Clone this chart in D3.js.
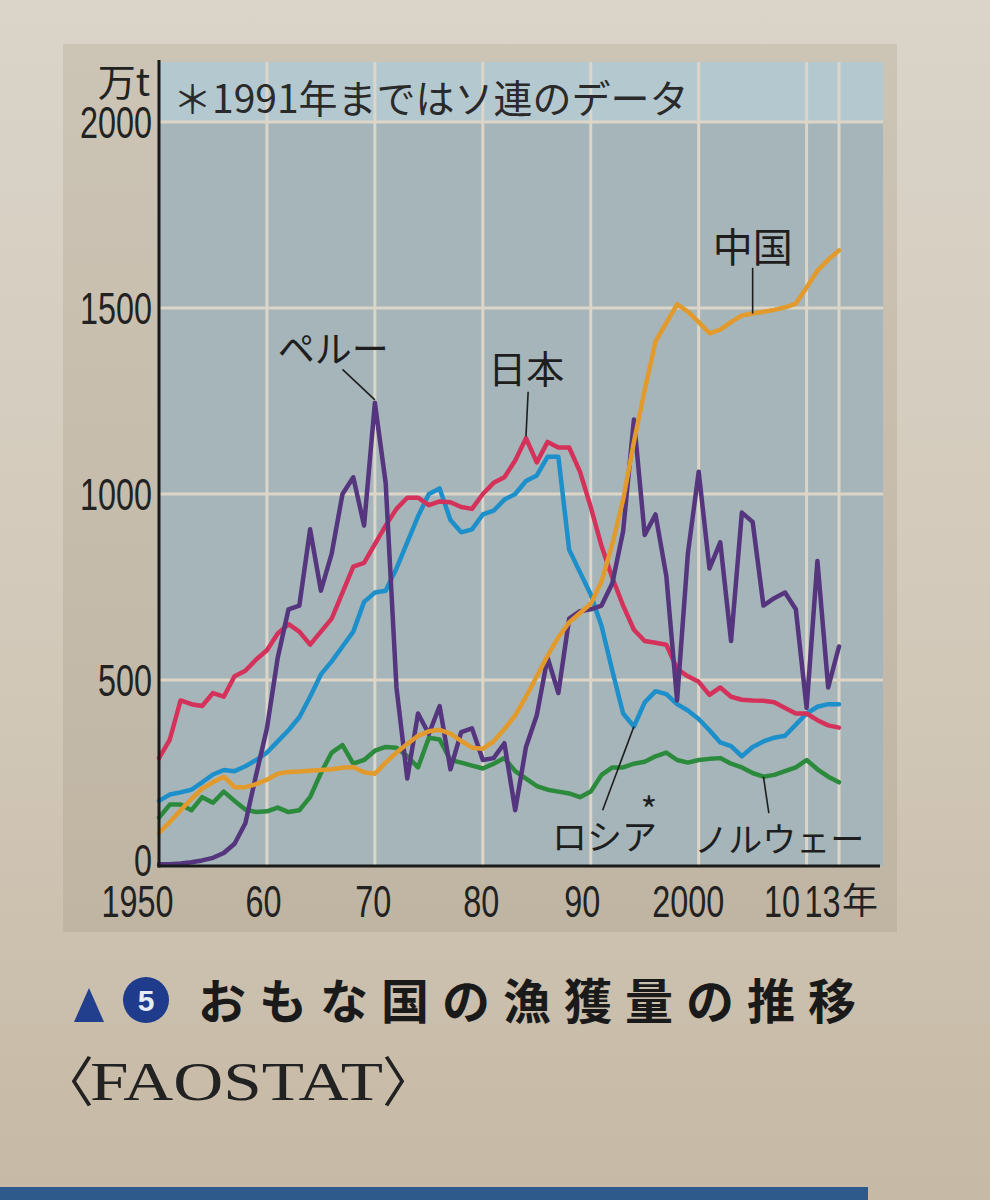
<!DOCTYPE html>
<html>
<head>
<meta charset="utf-8">
<script src="https://cdn.jsdelivr.net/npm/d3@7"></script>
<style>
  html, body { margin: 0; padding: 0; background: #d6cfc2; }
  svg { display: block; }
</style>
</head>
<body>
<svg id="chart" width="990" height="1200"></svg>
<script>
// ---------------- data (万t) ----------------
const years = d3.range(1950, 2014);

const japan = [290,340,445,435,430,465,455,510,525,555,
  580,625,650,630,595,630,665,735,805,815,
  865,915,960,990,990,970,980,978,965,960,
  1000,1030,1045,1090,1150,1085,1140,1125,1125,1060,
  965,860,775,700,635,605,600,595,530,510,
  495,460,480,455,447,445,444,440,425,410,
  410,392,378,372];

const russia = [175,192,198,205,225,246,258,255,268,285,
  305,335,365,400,455,515,550,590,630,710,
  735,740,800,870,940,1000,1015,930,897,905,
  945,955,985,1000,1035,1050,1100,1100,850,790,
  730,645,525,410,375,440,470,462,435,418,
  395,365,332,322,295,320,335,345,350,380,
  410,428,435,435];

const china = [90,118,150,180,208,225,240,212,212,220,
  232,248,253,254,256,258,260,264,266,252,
  248,278,305,328,350,362,366,356,336,318,
  315,335,368,405,455,510,565,615,655,680,
  705,765,865,985,1140,1280,1410,1460,1510,1490,
  1462,1432,1442,1462,1480,1485,1490,1495,1502,1512,
  1555,1600,1630,1655];

const peru = [5,5,7,10,15,22,35,60,115,245,
  370,560,690,700,905,740,840,1000,1045,915,
  1245,1030,480,235,410,355,430,260,360,370,
  285,290,330,150,320,405,560,465,665,685,
  690,700,760,900,1200,890,945,780,445,840,
  1060,800,870,605,950,925,700,720,735,690,
  425,820,480,590];

const norway = [130,165,165,150,185,170,200,175,152,145,
  147,157,145,150,185,250,305,325,275,285,
  310,320,318,295,265,345,340,285,278,270,
  262,275,290,255,235,215,205,200,195,185,
  200,245,265,265,275,280,295,305,285,278,
  285,288,290,275,265,250,240,245,255,265,
  285,260,240,225];

const yTicks = [0, 500, 1000, 1500, 2000];
const xTicks = [1950, 1960, 1970, 1980, 1990, 2000, 2010, 2013];
const xTickLabels = ["1950", "60", "70", "80", "90", "2000", "10", "13"];
const yearSuffix = "年";
const vGrid = [1960, 1970, 1980, 1990, 2000, 2010, 2013];
const hGrid = [500, 1000, 1500, 2000];

const seriesNames = ["ノルウェー", "ロシア", "日本", "ペルー", "中国"];
const seriesData = [norway, russia, japan, peru, china];
const seriesColors = ["#2c8a3c", "#1d8fca", "#d5325b", "#55357e", "#e29a2c"];

const noteText = "＊1991年まではソ連のデータ";
const unitText = "万t";
const titleText = "おもな国の漁獲量の推移";
const sourceParts = ["〈", "FAOSTAT", "〉"];

// ---------------- layout ----------------
const svg = d3.select("#chart");
const W = 990, H = 1200;
const plot = { left: 159, top: 62, right: 883, bottom: 866 };

const x = d3.scaleLinear().domain([1950, 2013]).range([159, 839]);
const y = d3.scaleLinear().domain([0, 2000]).range([866, 122]);

const defs = svg.append("defs");
const pg = defs.append("linearGradient").attr("id", "page").attr("x1", 0).attr("y1", 0).attr("x2", 0).attr("y2", 1);
pg.append("stop").attr("offset", "0%").attr("stop-color", "#dad4c9");
pg.append("stop").attr("offset", "60%").attr("stop-color", "#d1c7b7");
pg.append("stop").attr("offset", "100%").attr("stop-color", "#c6b9a5");
const pn = defs.append("linearGradient").attr("id", "panel").attr("x1", 0).attr("y1", 0).attr("x2", 0).attr("y2", 1);
pn.append("stop").attr("offset", "0%").attr("stop-color", "#ccc4b5");
pn.append("stop").attr("offset", "100%").attr("stop-color", "#c0b5a3");

svg.append("rect").attr("width", W).attr("height", H).attr("fill", "url(#page)");
svg.append("rect").attr("x", 63).attr("y", 44).attr("width", 834).attr("height", 888).attr("fill", "url(#panel)");
svg.append("rect").attr("x", plot.left).attr("y", plot.top)
  .attr("width", plot.right - plot.left).attr("height", plot.bottom - plot.top).attr("fill", "#a5b5b9");
svg.append("rect").attr("x", plot.left).attr("y", plot.top)
  .attr("width", plot.right - plot.left).attr("height", y(2000) - plot.top).attr("fill", "#b4c8d0");

// grid
const grid = svg.append("g").attr("stroke", "#ddd6c8").attr("stroke-width", 3);
grid.selectAll("line.v").data(vGrid).join("line")
  .attr("x1", d => x(d)).attr("x2", d => x(d)).attr("y1", plot.top).attr("y2", plot.bottom);
grid.selectAll("line.h").data(hGrid).join("line")
  .attr("x1", plot.left).attr("x2", plot.right).attr("y1", d => y(d)).attr("y2", d => y(d));

// note in top band
svg.append("text").attr("x", plot.left + 14).attr("y", plot.top + 51)
  .attr("font-family", "'Noto Sans CJK JP', sans-serif").attr("font-size", 39)
  .attr("fill", "#2a2a2a").text(noteText);

// lines
const line = d3.line().x((d, i) => x(years[i])).y(d => y(d));
svg.append("g").selectAll("path").data(seriesData).join("path")
  .attr("d", d => line(d))
  .attr("fill", "none")
  .attr("stroke", (d, i) => seriesColors[i])
  .attr("stroke-width", 4.5)
  .attr("stroke-linejoin", "round")
  .attr("stroke-linecap", "round");

// axes lines
svg.append("line").attr("x1", plot.left).attr("x2", plot.left).attr("y1", plot.top - 2).attr("y2", plot.bottom + 1.5)
  .attr("stroke", "#1a1a1a").attr("stroke-width", 3);
svg.append("line").attr("x1", plot.left - 1.5).attr("x2", plot.right - 3).attr("y1", plot.bottom).attr("y2", plot.bottom)
  .attr("stroke", "#1a1a1a").attr("stroke-width", 3);

const numFont = "'Liberation Sans', Arial, sans-serif";
const digitW = 18; // condensed digit width

// y axis
const yAxis = svg.append("g").attr("transform", `translate(${plot.left},0)`)
  .call(d3.axisLeft(y).tickValues(yTicks).tickSize(0).tickPadding(7).tickFormat(d3.format("d")));
yAxis.select(".domain").remove();
yAxis.selectAll("text").attr("font-family", numFont).attr("font-size", 45).attr("fill", "#222")
  .attr("textLength", d => String(d).length * digitW).attr("lengthAdjust", "spacingAndGlyphs")
  .attr("dy", d => d === 0 ? "0.2em" : "0.34em");

// x axis
const labelShift = [-22, -4, -2, -2, -9, -11, -25, -17];
const xAxis = svg.append("g").attr("transform", `translate(0,${plot.bottom})`)
  .call(d3.axisBottom(x).tickValues(xTicks).tickSize(0).tickPadding(19).tickFormat((d, i) => xTickLabels[i]));
xAxis.select(".domain").remove();
xAxis.selectAll("text").attr("font-family", numFont).attr("font-size", 45).attr("fill", "#222")
  .attr("dx", (d, i) => labelShift[i])
  .attr("textLength", (d, i) => xTickLabels[i].length * digitW).attr("lengthAdjust", "spacingAndGlyphs");
svg.append("text")
  .attr("x", x(xTicks[xTicks.length - 1]) + labelShift[labelShift.length - 1] + digitW + 2)
  .attr("y", plot.bottom + 48)
  .attr("font-family", "'Noto Sans CJK JP', sans-serif").attr("font-size", 36).attr("fill", "#222")
  .text(yearSuffix);

// unit
svg.append("text").attr("x", 150).attr("y", 96).attr("text-anchor", "end")
  .attr("font-family", "'Noto Sans CJK JP', sans-serif").attr("font-size", 38).attr("fill", "#222").text(unitText);

// annotations (anchored in data units)
const ann = svg.append("g").attr("font-family", "'Noto Sans CJK JP', sans-serif").attr("fill", "#1e1e1e");
const lbl = (txt, yr, v, fs) => ann.append("text").attr("x", x(yr)).attr("y", y(v)).attr("font-size", fs).text(txt);
const ptr = (yr1, v1, yr2, v2) => ann.append("line").attr("x1", x(yr1)).attr("y1", y(v1)).attr("x2", x(yr2)).attr("y2", y(v2))
  .attr("stroke", "#1e1e1e").attr("stroke-width", 1.6);
const idx = yr => yr - 1950;

lbl(seriesNames[3], 1961.0, 1352, 37);
ptr(1967.0, 1335, 1970, peru[idx(1970)] + 8);
lbl(seriesNames[2], 1980.5, 1298, 38);
ptr(1984.2, 1275, 1984, japan[idx(1984)] + 5);
lbl(seriesNames[4], 2001.3, 1624, 40);
ptr(2005.0, 1608, 2005, china[idx(2005)]);
lbl(seriesNames[1], 1986.4, 43, 35);
ann.append("text").attr("x", x(1994.6)).attr("y", y(112)).attr("font-size", 36).text("*");
ptr(1991.1, 150, 1994, russia[idx(1994)]);
lbl(seriesNames[0], 1999.6, 38, 34);
ptr(2006.5, 142, 2006, norway[idx(2006)]);

// caption
svg.append("path").attr("d", "M74,1022 L104,1022 L89,988 Z").attr("fill", "#213f8d");
svg.append("circle").attr("cx", 146).attr("cy", 1000).attr("r", 23).attr("fill", "#1e3b8c");
svg.append("text").attr("x", 146).attr("y", 1011).attr("text-anchor", "middle")
  .attr("font-family", "'Liberation Sans', sans-serif").attr("font-weight", "bold").attr("font-size", 30)
  .attr("fill", "#e8ecf5").text("5");
svg.append("text").attr("x", 198).attr("y", 1019)
  .attr("font-family", "'Noto Sans CJK JP', sans-serif").attr("font-weight", "bold")
  .attr("font-size", 48).attr("letter-spacing", 13).attr("fill", "#1a1a1a").text(titleText);

// source 〈FAOSTAT〉
const src = svg.append("g").attr("fill", "#222");
src.append("text").attr("x", 40).attr("y", 1102)
  .attr("font-family", "'Noto Sans CJK JP', serif").attr("font-size", 54).text(sourceParts[0]);
src.append("text").attr("x", 90).attr("y", 1100)
  .attr("font-family", "'Liberation Serif', serif").attr("font-size", 54)
  .attr("textLength", 293).attr("lengthAdjust", "spacingAndGlyphs").text(sourceParts[1]);
src.append("text").attr("x", 382).attr("y", 1102)
  .attr("font-family", "'Noto Sans CJK JP', serif").attr("font-size", 54).text(sourceParts[2]);

// bottom strip
svg.append("rect").attr("x", 0).attr("y", 1187).attr("width", 868).attr("height", 13).attr("fill", "#2e5a8b");
</script>
</body>
</html>
